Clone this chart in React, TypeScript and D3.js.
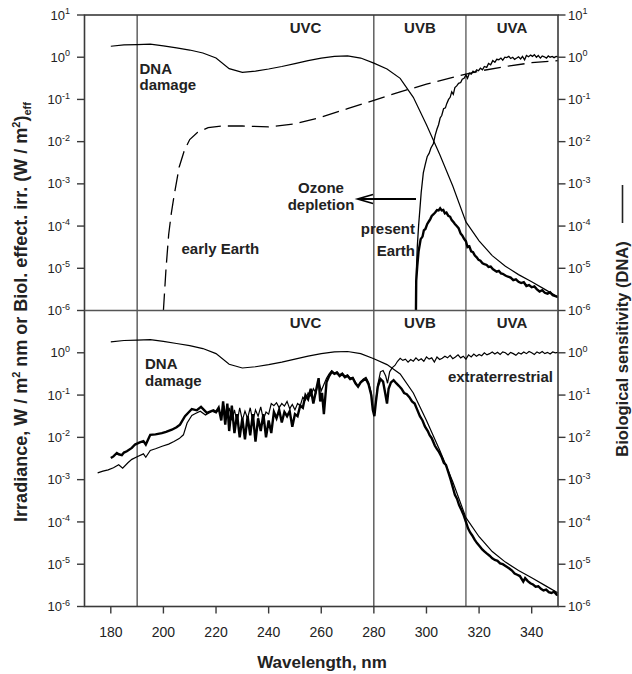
import React from "react";
import * as d3 from "d3";

// ---------- DATA (log10 values) ----------
const dnaNm = [180,185,190,195,200,205,210,215,220,225,230,235,240,245,250,255,260,265,270,275,280,285,290,295,300,305,310,315,320,325,330,335,340,345,350];
const dnaLog = [0.26,0.29,0.30,0.31,0.27,0.22,0.17,0.10,-0.02,-0.27,-0.36,-0.33,-0.28,-0.22,-0.15,-0.08,-0.02,0.02,0.03,-0.02,-0.14,-0.28,-0.5,-0.95,-1.6,-2.3,-3.05,-3.9,-4.35,-4.7,-4.95,-5.15,-5.32,-5.5,-5.68];

const earlyNm = [200,201,202,203,204,206,208,210,213,217,222,230,240,250,260,270,280,290,300,310,315,320,330,340,350];
const earlyLog = [-6,-5.0,-4.2,-3.7,-3.3,-2.6,-2.2,-1.95,-1.78,-1.67,-1.63,-1.63,-1.65,-1.58,-1.42,-1.22,-1.02,-0.82,-0.64,-0.48,-0.4,-0.33,-0.22,-0.13,-0.08];

const presentNm = [296,296.2,296.5,297,297.5,298,298.8,299.5,300.3,301,301.7,302.6,303.3,304,304.6,305.2,305.8,306.5,307.2,307.7,308.4,309,309.6,310.2,310.8,311.5,312.2,313,313.6,314.3,315,315.6,316.3,317,317.7,318.4,319.1,319.8,320.5,321.3,322,322.9,323.6,324.4,325.2,326,326.7,327.5,328.3,329,329.8,330.5,331.3,332,332.8,333.5,334.3,335,335.8,336.5,337.3,338,338.8,339.6,340.3,341,341.8,342.5,343.3,344,344.8,345.6,346.3,347,347.8,348.5,349.3,350];
const presentLog = [-6,-5.0,-4.5,-4.0,-3.6,-3.2,-2.74,-2.55,-2.35,-2.28,-2.15,-2.05,-1.85,-1.7,-1.6,-1.44,-1.38,-1.22,-1.2,-1.1,-1.0,-0.95,-0.82,-0.88,-0.72,-0.68,-0.62,-0.6,-0.52,-0.5,-0.42,-0.5,-0.38,-0.4,-0.33,-0.36,-0.3,-0.32,-0.26,-0.3,-0.22,-0.24,-0.15,-0.18,-0.08,-0.12,-0.05,-0.06,-0.02,-0.07,0.0,-0.01,0.02,-0.03,0.0,-0.05,-0.02,0.01,-0.04,0.02,-0.06,0.04,0.01,0.05,0.02,0.06,0.0,0.04,-0.02,0.03,0.01,-0.02,0.03,0.0,0.02,-0.01,0.02,0.01];

const presentEffNm = [296,296.1,296.5,297,297.8,298.5,299,299.6,300.3,301,301.4,302,302.7,303.3,304,304.6,305.2,305.8,306.4,307,307.6,308.3,309,309.6,310.2,310.8,311.5,312.2,313,313.6,314.3,315,315.6,316.3,317,317.7,318.4,319.1,319.8,320.5,321.3,322,322.9,323.6,324.4,325.2,326,326.7,327.5,328.3,329,330,331,332,333,334,335,336,337,338,339,340,341,342,343,344,345,346,347,348,349,350];
const presentEffLog = [-6,-5.3,-4.95,-4.6,-4.31,-4.25,-4.1,-4.07,-3.95,-3.88,-3.84,-3.76,-3.72,-3.68,-3.62,-3.63,-3.58,-3.63,-3.62,-3.7,-3.68,-3.76,-3.78,-3.86,-3.9,-3.95,-4.0,-4.05,-4.18,-4.22,-4.3,-4.36,-4.5,-4.48,-4.6,-4.62,-4.7,-4.74,-4.8,-4.82,-4.88,-4.9,-4.92,-4.97,-4.96,-5.02,-5.05,-5.08,-5.06,-5.12,-5.13,-5.17,-5.2,-5.22,-5.28,-5.26,-5.32,-5.35,-5.33,-5.42,-5.4,-5.45,-5.43,-5.5,-5.55,-5.52,-5.58,-5.6,-5.57,-5.64,-5.66,-5.68];

const extraNm = [175,177,179,181,183,184.5,186.5,188,190,192.4,193.3,195,197,199.5,202,204,206,207.6,209,210.8,212,214,216,218.4,220,221,222,223,224,225,226,227,228,229,230,231,232,233,234,235,236,237,238,239,240,241,242,243,244,245,246,247,248,249,250,251,252,253,254,255,256,257,258,259,260,261,262,263,264,265,266,267,268,269,270,271,272,273,274,275,276,277,278,279,279.6,280.2,280.8,281.5,282.5,283.5,284.5,285.2,286,287,288,289,290,291,292,293,294,295,296,297,298,299,300,301,302,303,304,305,306,307,308,309,310,311,312,313,314,315,316,317,318,319,320,321,322,323,324,325,326,327,328,329,330,331,332,333,334,335,336,337,338,339,340,341,342,343,344,345,346,347,348,349,350];
const extraLog = [-2.84,-2.8,-2.77,-2.72,-2.65,-2.73,-2.6,-2.52,-2.46,-2.39,-2.47,-2.31,-2.27,-2.21,-2.16,-2.1,-2.03,-1.94,-1.66,-1.48,-1.44,-1.38,-1.47,-1.38,-1.42,-1.35,-1.5,-1.25,-1.55,-1.3,-1.6,-1.35,-1.65,-1.3,-1.6,-1.38,-1.55,-1.3,-1.62,-1.35,-1.5,-1.28,-1.58,-1.4,-1.45,-1.2,-1.25,-1.18,-1.3,-1.2,-1.26,-1.15,-1.32,-1.22,-1.35,-1.2,-1.25,-1.05,-1.12,-0.95,-1.02,-0.85,-0.95,-0.65,-0.9,-0.75,-0.6,-0.5,-0.42,-0.48,-0.45,-0.52,-0.48,-0.55,-0.52,-0.6,-0.58,-0.7,-0.78,-0.68,-0.62,-0.58,-0.7,-0.95,-1.3,-1.45,-1.1,-0.75,-0.45,-0.42,-0.55,-0.72,-0.45,-0.35,-0.3,-0.2,-0.13,-0.18,-0.15,-0.22,-0.16,-0.2,-0.12,-0.18,-0.14,-0.2,-0.1,-0.15,-0.12,-0.22,-0.1,-0.16,-0.13,-0.08,-0.12,-0.06,-0.14,-0.1,-0.05,-0.12,-0.08,-0.15,-0.05,-0.1,-0.03,-0.08,-0.04,-0.07,0.0,-0.05,-0.02,0.02,-0.03,0.01,-0.04,0.02,0.0,-0.05,0.01,-0.02,-0.06,0.0,-0.03,0.02,-0.02,0.03,0.0,-0.04,0.02,-0.01,0.03,-0.02,0.01,-0.03,0.02,0.0,0.01];

const weightedNm = [180,181,182.3,183,184.2,185,186.1,188,189.2,191,192.4,193.3,195,197,199.4,201,203.2,205,206.3,208.2,210.8,212.7,214.3,216.5,219,220,221,222,222.7,223.5,224.3,225,226,227,228,229,230,231,232,233,234,235,236,237,238,239,240,241,242,243,244,245,246,247,248,249,250,251,252,253,254,255,256,257,258,259,259.6,260.3,261,262,263,264,265,266,267,268,269,270,271,272,273,274,275,276,277,278,279,279.6,280.2,280.8,281.5,282.5,283.5,284.3,285,285.6,286.5,287.5,288.5,289.5,290.5,291.5,292.5,293.5,294.5,295.5,296.5,297.5,298.5,299.4,300.5,301.2,302,303.2,304,304.8,305.8,306.6,307.4,308.3,309.2,310,310.8,311.6,312.4,313.3,314.2,315,315.8,316.6,317.4,318.3,319.2,320.3,321.2,322.1,323,324,325,326,327,328,329,330.5,331.5,332.5,333.5,334.5,335.5,336.8,337.5,338.5,339.5,340.5,341.5,342.5,343.5,344.5,345.5,346.5,347.5,348.5,349.5,350];
const weightedLog = [-2.49,-2.45,-2.37,-2.4,-2.42,-2.36,-2.33,-2.25,-2.17,-2.12,-2.09,-2.17,-1.94,-1.93,-1.9,-1.87,-1.82,-1.76,-1.7,-1.5,-1.33,-1.36,-1.28,-1.42,-1.36,-1.4,-1.3,-1.6,-1.15,-1.7,-1.2,-1.85,-1.25,-1.9,-1.45,-2.0,-1.55,-2.05,-1.5,-1.95,-1.45,-2.1,-1.55,-1.85,-1.45,-2.0,-1.6,-1.9,-1.4,-1.55,-1.35,-1.65,-1.4,-1.5,-1.38,-1.75,-1.45,-1.5,-1.25,-1.3,-1.0,-1.1,-0.85,-1.2,-0.9,-0.6,-1.15,-0.95,-1.45,-0.7,-0.55,-0.45,-0.5,-0.47,-0.55,-0.5,-0.58,-0.55,-0.62,-0.6,-0.72,-0.8,-0.7,-0.65,-0.62,-0.75,-1.0,-1.35,-1.5,-1.15,-0.8,-0.62,-0.68,-0.95,-1.2,-0.85,-0.7,-0.65,-0.72,-0.78,-0.85,-0.95,-0.98,-1.05,-1.15,-1.2,-1.35,-1.5,-1.6,-1.74,-1.85,-1.95,-2.02,-2.2,-2.28,-2.35,-2.47,-2.6,-2.65,-2.82,-3.0,-3.18,-3.36,-3.45,-3.6,-3.72,-3.85,-4.0,-4.15,-4.25,-4.32,-4.42,-4.5,-4.58,-4.65,-4.7,-4.75,-4.8,-4.86,-4.9,-4.92,-4.98,-5.0,-5.06,-5.1,-5.15,-5.22,-5.25,-5.28,-5.41,-5.33,-5.4,-5.45,-5.48,-5.53,-5.52,-5.58,-5.62,-5.6,-5.66,-5.68,-5.65,-5.72,-5.73];

const xTicks = [180,200,220,240,260,280,300,320,340];
const topExps = [1,0,-1,-2,-3,-4,-5,-6];
const botExps = [0,-1,-2,-3,-4,-5,-6];
const bandLines = [190,280,315];
const bandLabels = [
  { name: "UVC", nm: 254 },
  { name: "UVB", nm: 297.5 },
  { name: "UVA", nm: 332.5 },
];

const FONT = "'Liberation Sans', Arial, Helvetica, sans-serif";

export default function App() {
  const x = d3.scaleLinear().domain([170, 350]).range([84.5, 558]);
  const yTop = d3.scaleLog().domain([1e-6, 10]).range([310.5, 15]);
  const yBot = d3.scaleLog().domain([1e-6, 10]).range([606.5, 310.5]);

  const mk = (ys: any) => (nm: number[], lg: number[]) =>
    d3.line<number>()
      .x((_, i) => x(nm[i]))
      .y((_, i) => ys(Math.pow(10, lg[i])))(lg) as string;
  const lt = mk(yTop);
  const lb = mk(yBot);

  const axisColor = "#3a3a3a";

  const yLabel = (yv: number, e: number, side: "l" | "r", key: string) => (
    <text
      key={key}
      x={side === "l" ? 70 : 568}
      y={yv + 4.6}
      textAnchor={side === "l" ? "end" : "start"}
      fontSize={13}
      fontFamily={FONT}
      fill="#222"
    >
      10
      <tspan dy={-5.5} fontSize={9}>{e}</tspan>
    </text>
  );

  return (
    <svg width={632} height={674} style={{ position: "absolute", left: 0, top: 0 }} fontFamily={FONT}>
      <defs>
        <clipPath id="cTop"><rect x={84.5} y={15} width={473.5} height={295.5} /></clipPath>
        <clipPath id="cBot"><rect x={84.5} y={310.5} width={473.5} height={296} /></clipPath>
      </defs>
      <rect width={632} height={674} fill="#fff" />

      {/* band vertical lines */}
      {bandLines.map((b) => (
        <line key={b} x1={x(b)} x2={x(b)} y1={15} y2={606.5}
          stroke={b === 315 ? "#555" : "#111"} strokeWidth={b === 315 ? 1.3 : 1} />
      ))}

      {/* top panel curves */}
      <g clipPath="url(#cTop)" fill="none">
        <path d={lt(dnaNm, dnaLog)} stroke="#000" strokeWidth={1.2} />
        <path d={lt(earlyNm, earlyLog)} stroke="#000" strokeWidth={1.3} strokeDasharray="17,7" />
        <path d={lt(presentNm, presentLog)} stroke="#000" strokeWidth={1.3} />
        <path d={lt(presentEffNm, presentEffLog)} stroke="#000" strokeWidth={2.4} />
      </g>

      {/* bottom panel curves */}
      <g clipPath="url(#cBot)" fill="none">
        <path d={lb(dnaNm, dnaLog)} stroke="#000" strokeWidth={1.2} />
        <path d={lb(extraNm, extraLog)} stroke="#000" strokeWidth={1.2} />
        <path d={lb(weightedNm, weightedLog)} stroke="#000" strokeWidth={2.4} />
      </g>

      {/* frame */}
      <rect x={84.5} y={15} width={473.5} height={591.5} fill="none" stroke={axisColor} strokeWidth={1.6} />
      <line x1={84.5} x2={558} y1={310.5} y2={310.5} stroke="#555" strokeWidth={1.6} />

      {/* y ticks */}
      {topExps.map((e) => {
        const yv = yTop(Math.pow(10, e));
        return (
          <g key={"t" + e}>
            <line x1={77} x2={84.5} y1={yv} y2={yv} stroke={axisColor} strokeWidth={1.4} />
            <line x1={558} x2={565.5} y1={yv} y2={yv} stroke={axisColor} strokeWidth={1.4} />
            {yLabel(yv, e, "l", "tl" + e)}
            {yLabel(yv, e, "r", "tr" + e)}
          </g>
        );
      })}
      {botExps.map((e) => {
        const yv = yBot(Math.pow(10, e));
        return (
          <g key={"b" + e}>
            <line x1={77} x2={84.5} y1={yv} y2={yv} stroke={axisColor} strokeWidth={1.4} />
            <line x1={558} x2={565.5} y1={yv} y2={yv} stroke={axisColor} strokeWidth={1.4} />
            {yLabel(yv, e, "l", "bl" + e)}
            {yLabel(yv, e, "r", "br" + e)}
          </g>
        );
      })}

      {/* x ticks */}
      {xTicks.map((t) => (
        <g key={t}>
          <line x1={x(t)} x2={x(t)} y1={606.5} y2={613.5} stroke={axisColor} strokeWidth={1.4} />
          <text x={x(t)} y={637} textAnchor="middle" fontSize={14} fill="#222">{t}</text>
        </g>
      ))}
      <text x={322} y={668} textAnchor="middle" fontSize={17} fontWeight="bold" fill="#222">Wavelength, nm</text>

      {/* band labels */}
      {bandLabels.map((b) => (
        <g key={b.name} fontSize={15} fontWeight="bold" fill="#222" textAnchor="middle">
          <text x={x(b.nm)} y={33}>{b.name}</text>
          <text x={x(b.nm)} y={328}>{b.name}</text>
        </g>
      ))}

      {/* annotations */}
      <g fontSize={15} fontWeight="bold" fill="#222">
        <text x={139.5} y={74}>DNA</text>
        <text x={139.5} y={90}>damage</text>
        <text x={145} y={368.5}>DNA</text>
        <text x={145} y={386}>damage</text>
        <text x={181.5} y={253.5}>early Earth</text>
        <text x={321} y={192.7} textAnchor="middle">Ozone</text>
        <text x={321} y={210} textAnchor="middle">depletion</text>
        <text x={415} y={233.5} textAnchor="end">present</text>
        <text x={415} y={256} textAnchor="end">Earth</text>
        <text x={553} y={381.5} textAnchor="end">extraterrestrial</text>
      </g>

      {/* ozone depletion arrow */}
      <line x1={359} x2={416} y1={199} y2={199} stroke="#000" strokeWidth={2} />
      <path d="M373,194.5 L357.5,199 L373,203.5" fill="none" stroke="#000" strokeWidth={1.6} />

      {/* axis titles */}
      <text transform="translate(27,312) rotate(-90)" textAnchor="middle" fontSize={18} fontWeight="bold" fill="#222">
        Irradiance, W / m<tspan dy={-7} fontSize={11}>2</tspan><tspan dy={7}> nm or Biol. effect. irr. (W / m</tspan><tspan dy={-7} fontSize={11}>2</tspan><tspan dy={7}>)</tspan><tspan dy={4} fontSize={11}>eff</tspan>
      </text>
      <text transform="translate(628,349) rotate(-90)" textAnchor="middle" fontSize={16.5} fontWeight="bold" fill="#222">
        Biological sensitivity (DNA)
      </text>
      <line x1={622.5} x2={622.5} y1={185} y2={223} stroke="#222" strokeWidth={1.6} />
    </svg>
  );
}
